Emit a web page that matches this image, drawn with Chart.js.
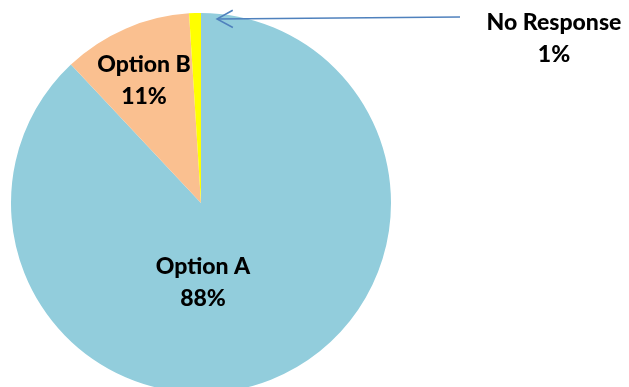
<!DOCTYPE html>
<html>
<head>
<meta charset="utf-8">
<script src="https://cdn.jsdelivr.net/npm/chart.js@4"></script>
<style>
  html, body { margin: 0; padding: 0; background: #fff; overflow: hidden; }
  #wrap { position: relative; width: 629px; height: 400px; }
</style>
</head>
<body>
<div id="wrap"><canvas id="pieChart"></canvas></div>
<script>
const labels = ['Option A', 'Option B', 'No Response'];
const values = [88, 11, 1];
const colors = ['#92CDDC', '#FAC090', '#FFFF00'];

// where each label block is centred (x, y of first line)
const labelPos = [
    { x: 203, y: 267 },
    { x: 144, y: 65 },
    { x: 554, y: 23 },
];

const sliceLabels = {
    id: 'sliceLabels',
    afterDatasetsDraw(chart) {
        const ctx = chart.ctx;
        const arcs = chart.getDatasetMeta(0).data;
        ctx.save();
        ctx.fillStyle = '#000';
        ctx.font = '900 23px Lato';
        ctx.textAlign = 'center';
        ctx.textBaseline = 'middle';
        labels.forEach((name, i) => {
            const p = labelPos[i];
            ctx.fillText(name, p.x, p.y);
            ctx.fillText(values[i] + '%', p.x, p.y + 32);
        });

        // leader arrow for the small slice
        const arc = arcs[2];
        const tipX = arc.x + Math.cos(arc.endAngle) * arc.outerRadius + 16;
        const tipY = arc.y + Math.sin(arc.endAngle) * arc.outerRadius + 6;
        const fromX = 460, fromY = 17;
        ctx.strokeStyle = '#4F81BD';
        ctx.lineWidth = 1.5;
        ctx.beginPath();
        ctx.moveTo(fromX, fromY);
        ctx.lineTo(tipX, tipY);
        ctx.stroke();
        const ang = Math.atan2(fromY - tipY, fromX - tipX);
        ctx.beginPath();
        ctx.moveTo(tipX + Math.cos(ang - 0.5) * 18, tipY + Math.sin(ang - 0.5) * 18);
        ctx.lineTo(tipX, tipY);
        ctx.lineTo(tipX + Math.cos(ang + 0.5) * 18, tipY + Math.sin(ang + 0.5) * 18);
        ctx.stroke();
        ctx.restore();
    }
};

const pie = document.getElementById('pieChart').getContext('2d');
const pieChart = new Chart(pie, {
    type: 'pie',
    data: {
        labels: labels,
        datasets: [{
            data: values,
            backgroundColor: colors,
            borderWidth: 0,
        }]
    },
    options: {
        responsive: true,
        maintainAspectRatio: false,
        animation: false,
        layout: {
            padding: { top: 13, left: 11, right: 238, bottom: 7 }
        },
        plugins: {
            legend: { display: false },
            tooltip: { enabled: false },
        },
    },
    plugins: [sliceLabels],
});
</script>
</body>
</html>
